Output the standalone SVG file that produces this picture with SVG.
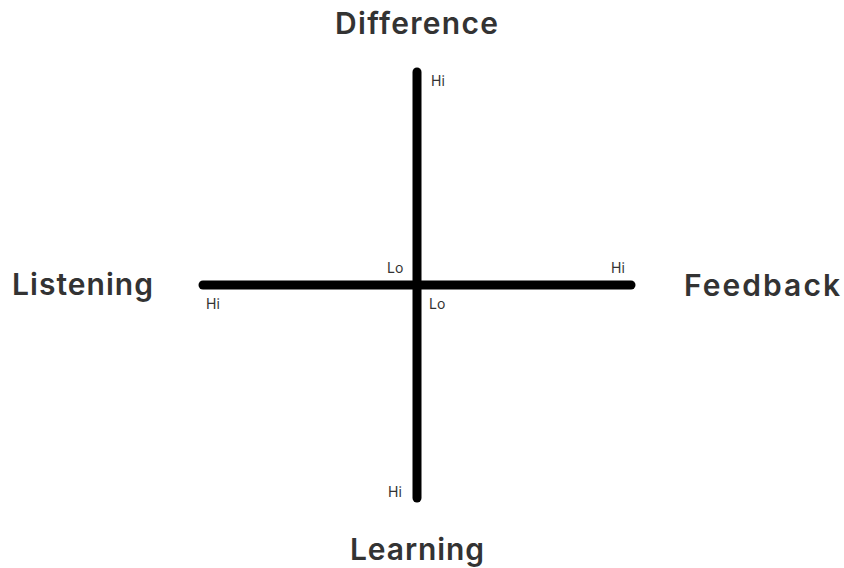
<svg xmlns="http://www.w3.org/2000/svg" width="844" height="568" viewBox="0 0 844 568">
<style>
.axis{stroke:#000;stroke-width:9;stroke-linecap:round;fill:none}
.t{font-family:Inter,"Liberation Sans",sans-serif;font-weight:600;font-size:30px;fill:#333}
.s{font-family:Inter,"Liberation Sans",sans-serif;font-size:14px;fill:#333}
</style>
<rect width="844" height="568" fill="#fff"/>
<g id="connectors">
<line class="axis" x1="417" y1="72" x2="417" y2="498"/>
<line class="axis" x1="203" y1="285" x2="631" y2="285"/>
</g>
<g id="difference"><text class="t" x="335" y="34" textLength="163" lengthAdjust="spacing">Difference</text></g>
<g id="listening"><text class="t" x="12" y="295" textLength="141" lengthAdjust="spacing">Listening</text></g>
<g id="feedback"><text class="t" x="684" y="296" textLength="156" lengthAdjust="spacing">Feedback</text></g>
<g id="learning"><text class="t" x="350" y="560" textLength="134" lengthAdjust="spacing">Learning</text></g>
<g id="labels">
<text class="s" x="431" y="86">Hi</text>
<text class="s" x="387" y="273">Lo</text>
<text class="s" x="429" y="309">Lo</text>
<text class="s" x="611" y="273">Hi</text>
<text class="s" x="206" y="309">Hi</text>
<text class="s" x="388" y="497">Hi</text>
</g>
</svg>
